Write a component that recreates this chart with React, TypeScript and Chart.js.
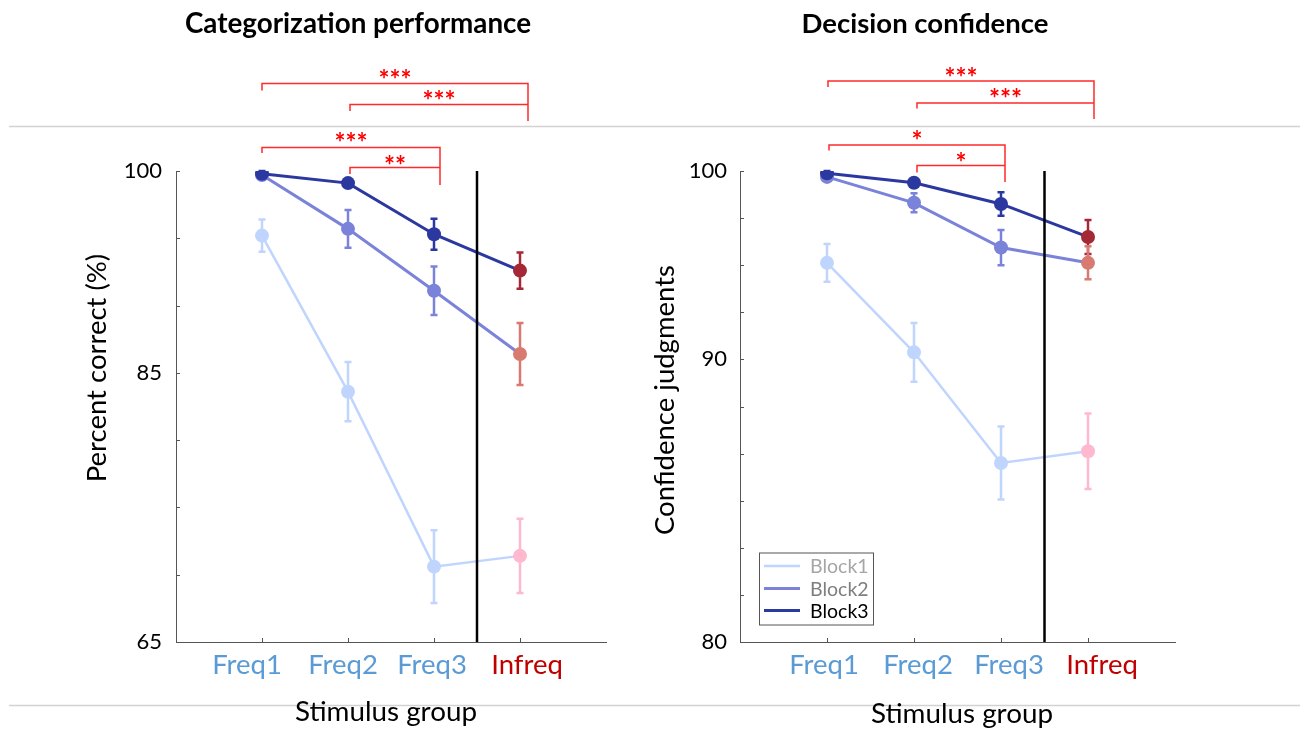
import React, { useEffect, useRef } from 'react';
import { Chart, registerables } from 'chart.js';

Chart.register(...registerables);

// ---------- data ----------
const categories = ['Freq1', 'Freq2', 'Freq3', 'Infreq'];
const seriesNames = ['Block1', 'Block2', 'Block3'];

// Categorization performance (percent correct)
const perfBlock1 = [95.2, 83.6, 70.6, 71.4];
const perfBlock2 = [99.7, 95.7, 91.1, 86.4];
const perfBlock3 = [99.8, 99.1, 95.3, 92.6];
const perfErr1 = [1.2, 2.2, 2.7, 2.75];
const perfErr2 = [0.2, 1.4, 1.8, 2.3];
const perfErr3 = [0.2, 0.25, 1.15, 1.35];
const perfTicks = [65, 70, 75, 80, 85, 90, 95, 100];
const perfTickLabels = ['65', '', '', '', '85', '', '', '100'];

// Decision confidence (axis units as drawn)
const confBlock1 = [96.1, 92.3, 87.6, 88.1];
const confBlock2 = [99.75, 98.65, 96.75, 96.1];
const confBlock3 = [99.9, 99.5, 98.6, 97.2];
const confErr1 = [0.8, 1.25, 1.55, 1.6];
const confErr2 = [0.1, 0.4, 0.75, 0.7];
const confErr3 = [0.1, 0.15, 0.5, 0.72];
const confTicks = [80, 82, 84, 86, 88, 90, 92, 94, 96, 98, 100];
const confTickLabels = ['80', '', '', '', '', '', '90', '', '', '', '100'];

const perfSig = ['***', '***', '***', '**'];
const confSig = ['***', '***', '*', '*'];

// ---------- styles ----------
const FONT = 'Lato, "Open Sans", sans-serif';
const lineColors = ['#C0D5FE', '#7A82DA', '#2B389F'];
const infreqColors = ['#FFB9CF', '#D97A70', '#A52837'];
const lineWidths = [2.5, 3, 3];
const legendTextColors = ['#A6A6A6', '#7F7F7F', '#000000'];
const freqColor = '#5B9BD5';
const infreqColor = '#C00000';

type Bracket = {
  a: number; aOff: number; b: number; bOff: number;
  y: number; leftEnd: number; rightEnd?: number; labelY: number;
};

type Panel = {
  title: string; titleX: number; titleSize: number;
  yTitle: string; yTitleX: number; yTitleY: number;
  xTitle: string; xTitleX: number; xTitleY: number;
  labelOffsets: number[];
  series: number[][]; errors: number[][];
  yMin: number; yMax: number;
  ticks: number[]; tickLabels: string[];
  padLeft: number; yWidth: number; padRight: number; yPad: number;
  brackets: Bracket[]; sig: string[];
  legend: boolean; grayStart: number;
};

const panels: Panel[] = [
  {
    title: 'Categorization performance', titleX: 358, titleSize: 27.8,
    yTitle: 'Percent correct (%)', yTitleX: 97, yTitleY: 368,
    xTitle: 'Stimulus group', xTitleX: 386, xTitleY: 712,
    labelOffsets: [-15, -5, -2, 7],
    series: [perfBlock1, perfBlock2, perfBlock3],
    errors: [perfErr1, perfErr2, perfErr3],
    yMin: 65, yMax: 100,
    ticks: perfTicks, tickLabels: perfTickLabels,
    padLeft: 82, yWidth: 94, padRight: 44, yPad: 14,
    brackets: [
      { a: 0, aOff: 0, b: 3, bOff: 8, y: 83.5, leftEnd: 90.5, rightEnd: 121, labelY: 74 },
      { a: 1, aOff: 2, b: 3, bOff: 8, y: 104.5, leftEnd: 111, labelY: 95.5 },
      { a: 0, aOff: 0, b: 2, bOff: 6, y: 147.5, leftEnd: 153, rightEnd: 185, labelY: 137 },
      { a: 1, aOff: 2, b: 2, bOff: 6, y: 167.5, leftEnd: 174, labelY: 160 },
    ],
    sig: perfSig,
    legend: false, grayStart: 9,
  },
  {
    title: 'Decision confidence', titleX: 275, titleSize: 27.5,
    yTitle: 'Confidence judgments', yTitleX: 15, yTitleY: 400,
    xTitle: 'Stimulus group', xTitleX: 312, xTitleY: 714,
    labelOffsets: [-3, 4, 8, 14],
    series: [confBlock1, confBlock2, confBlock3],
    errors: [confErr1, confErr2, confErr3],
    yMin: 80, yMax: 100,
    ticks: confTicks, tickLabels: confTickLabels,
    padLeft: 2, yWidth: 88, padRight: 125, yPad: 13,
    brackets: [
      { a: 0, aOff: 1, b: 3, bOff: 6, y: 81, leftEnd: 87, rightEnd: 119, labelY: 72 },
      { a: 1, aOff: 3, b: 3, bOff: 6, y: 103, leftEnd: 108.5, labelY: 93 },
      { a: 0, aOff: 2, b: 2, bOff: 4, y: 145, leftEnd: 150.5, rightEnd: 182, labelY: 135 },
      { a: 1, aOff: 3, b: 2, bOff: 4, y: 165.5, leftEnd: 172.5, labelY: 157 },
    ],
    sig: confSig,
    legend: true, grayStart: 0,
  },
];

const W = 650;
const H = 729;
const STAR_SIZE = 26;

function pointColors(si: number) {
  return categories.map((_, i) => (i === categories.length - 1 ? infreqColors[si] : lineColors[si]));
}

function makeOverlay(panel: Panel) {
  return {
    id: 'overlay',
    beforeDraw(chart: any) {
      const ctx = chart.ctx;
      ctx.save();
      ctx.fillStyle = '#ffffff';
      ctx.fillRect(0, 0, chart.width, chart.height);
      ctx.strokeStyle = '#d2d2d2';
      ctx.lineWidth = 1.5;
      ctx.beginPath();
      ctx.moveTo(panel.grayStart, 126.5);
      ctx.lineTo(chart.width, 126.5);
      ctx.moveTo(panel.grayStart, 705.5);
      ctx.lineTo(chart.width, 705.5);
      ctx.stroke();
      ctx.restore();
    },
    beforeDatasetsDraw(chart: any) {
      const ctx = chart.ctx;
      const xs = chart.scales.x;
      const ys = chart.scales.y;
      ctx.save();
      ctx.lineWidth = 2.5;
      for (let si = panel.series.length - 1; si >= 0; si--) {
        const vals = panel.series[si];
        const errs = panel.errors[si];
        const cols = pointColors(si);
        vals.forEach((v, i) => {
          const x = xs.getPixelForValue(i);
          const y1 = ys.getPixelForValue(v + errs[i]);
          const y2 = ys.getPixelForValue(v - errs[i]);
          ctx.strokeStyle = cols[i];
          ctx.beginPath();
          ctx.moveTo(x, y1);
          ctx.lineTo(x, y2);
          ctx.moveTo(x - 3.5, y1);
          ctx.lineTo(x + 3.5, y1);
          ctx.moveTo(x - 3.5, y2);
          ctx.lineTo(x + 3.5, y2);
          ctx.stroke();
        });
      }
      ctx.restore();
    },
    afterDatasetsDraw(chart: any) {
      const ctx = chart.ctx;
      const xs = chart.scales.x;
      const ys = chart.scales.y;
      const area = chart.chartArea;
      ctx.save();
      const xd = xs.getPixelForValue(2.5);
      ctx.strokeStyle = '#000000';
      ctx.lineWidth = 2.5;
      ctx.beginPath();
      ctx.moveTo(xd, area.top);
      ctx.lineTo(xd, area.bottom);
      ctx.stroke();
      ctx.strokeStyle = '#555555';
      ctx.lineWidth = 1;
      ctx.beginPath();
      panel.ticks.forEach((t) => {
        const y = Math.round(ys.getPixelForValue(t)) + 0.5;
        ctx.moveTo(area.left, y);
        ctx.lineTo(area.left + 4, y);
      });
      categories.forEach((_, i) => {
        const x = Math.round(xs.getPixelForValue(i)) + 0.5;
        ctx.moveTo(x, area.bottom);
        ctx.lineTo(x, area.bottom - 4);
      });
      ctx.stroke();
      ctx.restore();
    },
    afterDraw(chart: any) {
      const ctx = chart.ctx;
      const xs = chart.scales.x;
      ctx.save();
      // title
      ctx.fillStyle = '#000000';
      ctx.font = `bold ${panel.titleSize}px ${FONT}`;
      ctx.textAlign = 'center';
      ctx.textBaseline = 'middle';
      ctx.fillText(panel.title, panel.titleX, 24);
      // category labels
      ctx.font = `27.5px ${FONT}`;
      categories.forEach((c, i) => {
        ctx.fillStyle = i === categories.length - 1 ? infreqColor : freqColor;
        ctx.fillText(c, xs.getPixelForValue(i) + panel.labelOffsets[i], 665);
      });
      // axis titles
      ctx.fillStyle = '#000000';
      ctx.font = `27.8px ${FONT}`;
      ctx.fillText(panel.xTitle, panel.xTitleX, panel.xTitleY);
      ctx.save();
      ctx.translate(panel.yTitleX, panel.yTitleY);
      ctx.rotate(-Math.PI / 2);
      ctx.font = `27.5px ${FONT}`;
      ctx.fillText(panel.yTitle, 0, 0);
      ctx.restore();
      // significance brackets
      ctx.strokeStyle = '#FF2A2A';
      ctx.fillStyle = '#FF0000';
      ctx.lineWidth = 1.5;
      ctx.font = `bold ${STAR_SIZE}px ${FONT}`;
      ctx.textAlign = 'center';
      ctx.textBaseline = 'alphabetic';
      panel.brackets.forEach((b, k) => {
        const xa = xs.getPixelForValue(b.a) + b.aOff;
        const xb = xs.getPixelForValue(b.b) + b.bOff;
        ctx.beginPath();
        ctx.moveTo(xa, b.leftEnd);
        ctx.lineTo(xa, b.y);
        ctx.lineTo(xb, b.y);
        if (b.rightEnd !== undefined) ctx.lineTo(xb, b.rightEnd);
        ctx.stroke();
        ctx.fillText(panel.sig[k], (xa + xb) / 2, b.labelY + STAR_SIZE * 0.57);
      });
      // legend
      if (panel.legend) {
        const lx = 109, ly = 552.5, lw = 114, lh = 72;
        ctx.fillStyle = '#ffffff';
        ctx.fillRect(lx, ly, lw, lh);
        ctx.strokeStyle = '#555555';
        ctx.lineWidth = 1;
        ctx.strokeRect(lx + 0.5, ly + 0.5, lw, lh);
        const rows = [566, 588.5, 610.5];
        ctx.font = `19.5px ${FONT}`;
        ctx.textAlign = 'left';
        ctx.textBaseline = 'middle';
        seriesNames.forEach((name, si) => {
          ctx.strokeStyle = lineColors[si];
          ctx.lineWidth = lineWidths[si];
          ctx.beginPath();
          ctx.moveTo(lx + 5, rows[si]);
          ctx.lineTo(lx + 41, rows[si]);
          ctx.stroke();
          ctx.fillStyle = legendTextColors[si];
          ctx.fillText(name, lx + 51, rows[si] + 1);
        });
      }
      ctx.restore();
    },
  };
}

function PanelChart({ panel, left }: { panel: Panel; left: number }) {
  const ref = useRef<HTMLCanvasElement | null>(null);
  useEffect(() => {
    if (!ref.current) return;
    const datasets = panel.series.map((vals, si) => ({
      label: seriesNames[si],
      data: vals.map((v, i) => ({ x: i, y: v })),
      borderColor: lineColors[si],
      backgroundColor: lineColors[si],
      pointBackgroundColor: pointColors(si),
      pointBorderColor: pointColors(si),
      pointBorderWidth: 0,
      pointRadius: 7,
      pointHoverRadius: 7,
      borderWidth: lineWidths[si],
      tension: 0,
      order: panel.series.length - 1 - si,
    }));
    const chart = new Chart(ref.current, {
      type: 'line',
      data: { datasets },
      plugins: [makeOverlay(panel)],
      options: {
        animation: false,
        responsive: false,
        devicePixelRatio: 1,
        layout: { padding: { left: panel.padLeft, top: 171, right: panel.padRight, bottom: 0 } },
        plugins: { legend: { display: false }, tooltip: { enabled: false }, title: { display: false } },
        scales: {
          x: {
            type: 'linear',
            min: -1,
            max: 4,
            afterFit: (s: any) => { s.height = 87; },
            afterBuildTicks: (s: any) => {
              s.ticks = [-1, 0, 1, 2, 3, 4].map((v) => ({ value: v }));
            },
            grid: { display: true, drawOnChartArea: false, drawTicks: false },
            border: { display: true, color: '#555555', width: 1 },
            ticks: { display: false },
            title: { display: false },
          },
          y: {
            type: 'linear',
            min: panel.yMin,
            max: panel.yMax,
            afterFit: (s: any) => { s.width = panel.yWidth; },
            afterBuildTicks: (s: any) => {
              s.ticks = panel.ticks.map((v) => ({ value: v }));
            },
            grid: { display: true, drawOnChartArea: false, drawTicks: false },
            border: { display: true, color: '#555555', width: 1 },
            ticks: {
              padding: panel.yPad,
              autoSkip: false,
              font: { family: FONT, size: 22 },
              color: '#000000',
              callback: (v: any) => {
                const idx = panel.ticks.indexOf(v as number);
                return idx >= 0 ? panel.tickLabels[idx] : '';
              },
            },
            title: { display: false },
          },
        },
      },
    } as any);
    return () => chart.destroy();
  }, [panel]);
  return (
    <canvas
      ref={ref}
      width={W}
      height={H}
      style={{ position: 'absolute', left, top: 0, width: W, height: H }}
    />
  );
}

export default function App() {
  return (
    <div style={{ position: 'fixed', left: 0, top: 0, width: 1300, height: 729, background: '#ffffff' }}>
      <PanelChart panel={panels[0]} left={0} />
      <PanelChart panel={panels[1]} left={650} />
    </div>
  );
}
